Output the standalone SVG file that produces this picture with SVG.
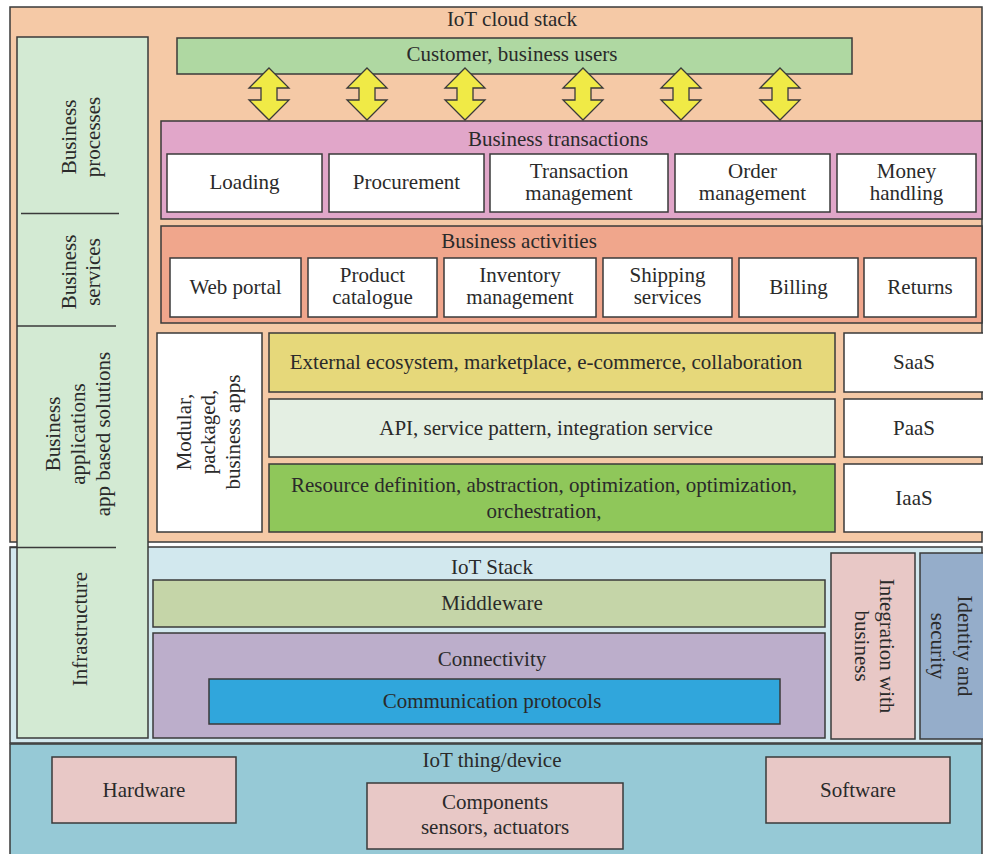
<svg xmlns="http://www.w3.org/2000/svg" xmlns:xlink="http://www.w3.org/1999/xlink" width="983" height="854" viewBox="0 0 983 854">
<style>
rect{stroke:#3a3a3a;stroke-width:1.5}
text{font-family:"Liberation Serif","DejaVu Serif",serif;font-size:21px;fill:#2a2a2a;text-anchor:middle}
.w{fill:#ffffff}
.arrow{fill:#f0ea46;stroke:#3a3a3a;stroke-width:1.3;stroke-linejoin:miter}
.div{stroke:#3a3a3a;stroke-width:1.5}
</style>
<defs>
<polygon id="dblarrow" class="arrow" points="0,68 20,88 8,88 8,100 20,100 0,120 -20,100 -8,100 -8,88 -20,88"/>
</defs>
<rect x="0" y="0" width="983" height="854" fill="#ffffff" style="stroke:none"/>

<g id="cloud-stack">
<rect x="10" y="7" width="972" height="535" fill="#f5c9a6"/>
<text x="512" y="26">IoT cloud stack</text>
</g>

<g id="iot-stack">
<rect x="10" y="547" width="972" height="196" fill="#d2e8ee"/>
<text x="492" y="574">IoT Stack</text>
</g>

<g id="iot-thing">
<rect x="10" y="744" width="972" height="115" fill="#96c9d6"/>
<text x="492" y="767">IoT thing/device</text>
</g>

<g id="left-column">
<rect x="17" y="37" width="131" height="701" fill="#d3ead3"/>
<line class="div" x1="21" y1="213.5" x2="119" y2="213.5"/>
<line class="div" x1="17" y1="326" x2="116" y2="326"/>
<line class="div" x1="10" y1="547.5" x2="116" y2="547.5"/>
<text transform="translate(76,137) rotate(-90)">Business</text>
<text transform="translate(100,137) rotate(-90)">processes</text>
<text transform="translate(76,272) rotate(-90)">Business</text>
<text transform="translate(100,272) rotate(-90)">services</text>
<text transform="translate(60,434) rotate(-90)">Business</text>
<text transform="translate(85,434) rotate(-90)">applications</text>
<text transform="translate(110,434) rotate(-90)">app based solutions</text>
<text transform="translate(87,629) rotate(-90)">Infrastructure</text>
</g>

<g id="customer">
<rect x="177" y="38" width="675" height="36" fill="#afd8a2"/>
<text x="512" y="61">Customer, business users</text>
</g>

<g id="business-transactions">
<rect x="161" y="121" width="821" height="98" fill="#e1a6c9"/>
<text x="558" y="146">Business transactions</text>
</g>
<g id="loading"><rect class="w" x="167" y="154" width="155" height="58"/><text x="244.5" y="189">Loading</text></g>
<g id="procurement"><rect class="w" x="329" y="154" width="155" height="58"/><text x="406.5" y="189">Procurement</text></g>
<g id="transaction-management"><rect class="w" x="490" y="154" width="178" height="58"/><text x="579" y="178">Transaction</text><text x="579" y="200">management</text></g>
<g id="order-management"><rect class="w" x="675" y="154" width="155" height="58"/><text x="752.5" y="178">Order</text><text x="752.5" y="200">management</text></g>
<g id="money-handling"><rect class="w" x="837" y="154" width="139" height="58"/><text x="906.5" y="178">Money</text><text x="906.5" y="200">handling</text></g>

<g id="business-activities">
<rect x="161" y="226" width="821" height="97" fill="#f0a68c"/>
<text x="519" y="248">Business activities</text>
</g>
<g id="web-portal"><rect class="w" x="170" y="258" width="131" height="59"/><text x="235.5" y="294">Web portal</text></g>
<g id="product-catalogue"><rect class="w" x="308" y="258" width="129" height="59"/><text x="372.5" y="282">Product</text><text x="372.5" y="304">catalogue</text></g>
<g id="inventory-management"><rect class="w" x="444" y="258" width="152" height="59"/><text x="520" y="282">Inventory</text><text x="520" y="304">management</text></g>
<g id="shipping-services"><rect class="w" x="603" y="258" width="129" height="59"/><text x="667.5" y="282">Shipping</text><text x="667.5" y="304">services</text></g>
<g id="billing"><rect class="w" x="739" y="258" width="119" height="59"/><text x="798.5" y="294">Billing</text></g>
<g id="returns"><rect class="w" x="864" y="258" width="112" height="59"/><text x="920" y="294">Returns</text></g>

<g id="modular-apps">
<rect class="w" x="157" y="333" width="105" height="199"/>
<text transform="translate(191,432) rotate(-90)">Modular,</text>
<text transform="translate(215,432) rotate(-90)">packaged,</text>
<text transform="translate(240,432) rotate(-90)">business apps</text>
</g>
<g id="external-ecosystem"><rect x="269" y="333" width="566" height="59" fill="#e6d87a"/><text x="546" y="369">External ecosystem, marketplace, e-commerce, collaboration</text></g>
<g id="api"><rect x="269" y="399" width="566" height="58" fill="#e4efe3"/><text x="546" y="435">API, service pattern, integration service</text></g>
<g id="resource"><rect x="269" y="464" width="566" height="68" fill="#8fc75a"/><text x="544" y="492">Resource definition, abstraction, optimization, optimization,</text><text x="544" y="518">orchestration,</text></g>
<g id="saas"><rect class="w" x="844" y="333" width="140" height="59"/><text x="914" y="369">SaaS</text></g>
<g id="paas"><rect class="w" x="844" y="399" width="140" height="58"/><text x="914" y="435">PaaS</text></g>
<g id="iaas"><rect class="w" x="844" y="464" width="140" height="68"/><text x="914" y="505">IaaS</text></g>

<g id="middleware"><rect x="153" y="580" width="672" height="47" fill="#c5d5a8"/><text x="492" y="610">Middleware</text></g>
<g id="connectivity"><rect x="153" y="633" width="672" height="105" fill="#bcaecb"/><text x="492" y="666">Connectivity</text></g>
<g id="communication-protocols"><rect x="209" y="679" width="571" height="45" fill="#30a6dc"/><text x="492" y="708">Communication protocols</text></g>
<g id="integration-business">
<rect x="831" y="553" width="84" height="186" fill="#e8c8c6"/>
<text transform="translate(880,646) rotate(90)">Integration with</text>
<text transform="translate(855,646) rotate(90)">business</text>
</g>
<g id="identity-security">
<rect x="920" y="553" width="64" height="186" fill="#95adca"/>
<text transform="translate(958,646) rotate(90)">Identity and</text>
<text transform="translate(931,646) rotate(90)">security</text>
</g>

<g id="hardware"><rect x="52" y="757" width="184" height="66" fill="#e8c8c6"/><text x="144" y="797">Hardware</text></g>
<g id="components"><rect x="367" y="783" width="256" height="66" fill="#e8c8c6"/><text x="495" y="809">Components</text><text x="495" y="834">sensors, actuators</text></g>
<g id="software"><rect x="766" y="757" width="184" height="66" fill="#e8c8c6"/><text x="858" y="797">Software</text></g>

<g id="connectors">
<use xlink:href="#dblarrow" x="269"/>
<use xlink:href="#dblarrow" x="367"/>
<use xlink:href="#dblarrow" x="465"/>
<use xlink:href="#dblarrow" x="583"/>
<use xlink:href="#dblarrow" x="681"/>
<use xlink:href="#dblarrow" x="780"/>
</g>
</svg>
